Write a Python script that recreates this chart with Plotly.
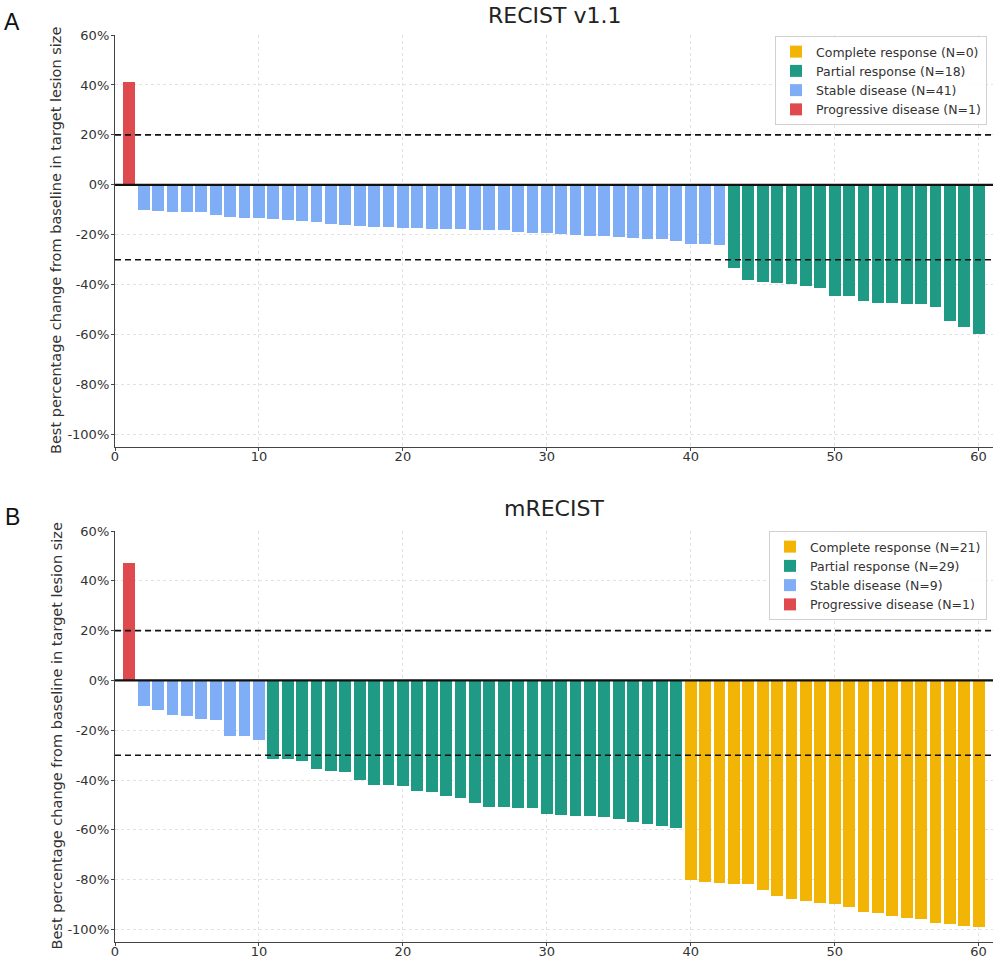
import plotly.graph_objects as go

# ---------------- Data ----------------
# Panel A: RECIST v1.1 (sorted waterfall, patient order 1..60)
recist_pd = [41.3]
recist_sd = [-10.0, -10.4, -10.7, -10.9, -10.9, -12.1, -12.7, -13.1, -13.2, -13.5,
             -13.9, -14.5, -14.7, -15.7, -16.0, -16.5, -16.7, -16.9, -17.2, -17.2,
             -17.5, -17.7, -17.7, -18.0, -18.0, -18.1, -18.9, -19.1, -19.3, -19.5,
             -20.0, -20.4, -20.5, -20.7, -21.2, -21.5, -21.6, -22.5, -23.7, -23.7,
             -24.3]
recist_pr = [-33.3, -38.3, -38.8, -39.2, -39.6, -40.7, -41.3, -44.4, -44.4, -46.4,
             -47.3, -47.3, -47.6, -47.6, -48.8, -54.4, -57.1, -59.6]
recist_cr = []

# Panel B: mRECIST
mrecist_pd = [47.1]
mrecist_sd = [-10.4, -11.7, -13.7, -14.1, -15.6, -15.7, -22.4, -22.4, -23.9]
mrecist_pr = [-31.6, -31.7, -32.3, -35.5, -36.3, -36.9, -39.9, -42.0, -42.0, -42.4,
              -44.5, -44.8, -46.4, -47.2, -49.1, -50.9, -50.9, -51.3, -51.3, -53.6,
              -54.0, -54.5, -54.5, -54.8, -55.7, -56.9, -57.7, -58.4, -59.1]
mrecist_cr = [-80.3, -80.9, -81.3, -81.6, -81.9, -84.3, -86.4, -87.6, -88.7, -89.3,
              -89.7, -90.8, -93.1, -93.3, -94.4, -95.5, -95.7, -97.3, -97.9, -98.7,
              -98.9]

category_names = {"cr": "Complete response", "pr": "Partial response",
                  "sd": "Stable disease", "pd": "Progressive disease"}
category_colors = {"cr": "#F3B505", "pr": "#1F9B85", "sd": "#80AEF6", "pd": "#DF4A4F"}

y_tickvals = [60, 40, 20, 0, -20, -40, -60, -80, -100]
y_ticktext = ["60%", "40%", "20%", "0%", "-20%", "-40%", "-60%", "-80%", "-100%"]
x_tickvals = [0, 10, 20, 30, 40, 50, 60]

thresholds = [20, -30]

# ---------------- Figure ----------------
W, H = 999, 961
ML, MR = 115, 6
PW = W - ML - MR

def fy(px):
    return (H - px) / H

top_dom = [fy(447), fy(35)]
bot_dom = [fy(942), fy(531)]

fig = go.Figure()
FONT = "DejaVu Sans"
TXT = "#333333"

def add_panel(groups, xa, ya, legend):
    pos = 1
    positions = {}
    for key in ["pd", "sd", "pr", "cr"]:
        positions[key] = list(range(pos, pos + len(groups[key])))
        pos += len(groups[key])
    for key in ["cr", "pr", "sd", "pd"]:
        vals = groups[key]
        xs = positions[key]
        fig.add_trace(go.Bar(
            x=xs if vals else [None], y=vals if vals else [None],
            name=f"{category_names[key]} (N={len(vals)})",
            marker=dict(color=category_colors[key], line=dict(width=0)),
            width=0.82, xaxis=xa, yaxis=ya, legend=legend, showlegend=True,
        ))

add_panel({"pd": recist_pd, "sd": recist_sd, "pr": recist_pr, "cr": recist_cr},
          "x", "y", "legend")
add_panel({"pd": mrecist_pd, "sd": mrecist_sd, "pr": mrecist_pr, "cr": mrecist_cr},
          "x2", "y2", "legend2")

axis_common = dict(
    showline=True, linecolor="#444444", linewidth=1.3, mirror=False,
    showgrid=True, gridcolor="#e2e2e2", griddash="dot", gridwidth=1,
    ticks="outside", ticklen=3, tickcolor="#444444", tickwidth=1,
    tickfont=dict(family=FONT, size=13, color=TXT), zeroline=False,
    automargin=False,
)
x_extra = dict(ticklabelstandoff=-6)
y_extra = dict(ticklabelstandoff=-1)

fig.update_layout(
    template="none",
    width=W, height=H,
    margin=dict(l=ML, r=MR, t=0, b=0, pad=0),
    paper_bgcolor="white", plot_bgcolor="white",
    barmode="overlay", bargap=0,
    font=dict(family=FONT, color=TXT),
    xaxis=dict(domain=[0, 1], range=[0, 61], tickvals=x_tickvals, anchor="y",
               **axis_common, **x_extra),
    yaxis=dict(domain=top_dom, range=[-105, 60], tickvals=y_tickvals, ticktext=y_ticktext,
               anchor="x", **axis_common, **y_extra),
    xaxis2=dict(domain=[0, 1], range=[0, 61], tickvals=x_tickvals, anchor="y2",
                **axis_common, **x_extra),
    yaxis2=dict(domain=bot_dom, range=[-105, 60], tickvals=y_tickvals, ticktext=y_ticktext,
                anchor="x2", **axis_common, **y_extra),
    legend=dict(x=(987 - ML) / PW, y=fy(36), xanchor="right", yanchor="top",
                bgcolor="rgba(255,255,255,0.9)", bordercolor="#d0d0d0", borderwidth=1,
                font=dict(family=FONT, size=12.5, color=TXT), traceorder="normal"),
    legend2=dict(x=(987 - ML) / PW, y=fy(531), xanchor="right", yanchor="top",
                 bgcolor="rgba(255,255,255,0.9)", bordercolor="#d0d0d0", borderwidth=1,
                 font=dict(family=FONT, size=12.5, color=TXT), traceorder="normal"),
)

shapes = []
for xa, ya in [("x", "y"), ("x2", "y2")]:
    for t in thresholds:
        shapes.append(dict(type="line", xref=f"{xa} domain", yref=ya, x0=0, x1=1, y0=t, y1=t,
                           line=dict(color="#111111", width=1.6, dash="6px,4px"), layer="above"))
    shapes.append(dict(type="line", xref=f"{xa} domain", yref=ya, x0=0, x1=1, y0=0, y1=0,
                       line=dict(color="#111111", width=2.2), layer="above"))
fig.update_layout(shapes=shapes)

annotations = [
    dict(text="RECIST v1.1", x=0.5, y=fy(15), xref="paper", yref="paper", showarrow=False,
         xanchor="center", yanchor="middle", font=dict(family=FONT, size=22, color="#222222")),
    dict(text="mRECIST", x=0.5, y=fy(508), xref="paper", yref="paper", showarrow=False,
         xanchor="center", yanchor="middle", font=dict(family=FONT, size=22, color="#222222")),
    dict(text="A", x=(12 - ML) / PW, y=fy(22), xref="paper", yref="paper", showarrow=False,
         xanchor="center", yanchor="middle", font=dict(family="Liberation Sans", size=23, color="#111111")),
    dict(text="B", x=(12 - ML) / PW, y=fy(517), xref="paper", yref="paper", showarrow=False,
         xanchor="center", yanchor="middle", font=dict(family="Liberation Sans", size=23, color="#111111")),
]
ytitle = "Best percentage change from baseline in target lesion size"
for dom in [top_dom, bot_dom]:
    annotations.append(dict(text=ytitle, textangle=-90, x=(56 - ML) / PW, y=(dom[0] + dom[1]) / 2,
                            xref="paper", yref="paper", showarrow=False,
                            xanchor="center", yanchor="middle",
                            font=dict(family=FONT, size=14.5, color=TXT)))
fig.update_layout(annotations=annotations)

fig.write_html("out.html")
